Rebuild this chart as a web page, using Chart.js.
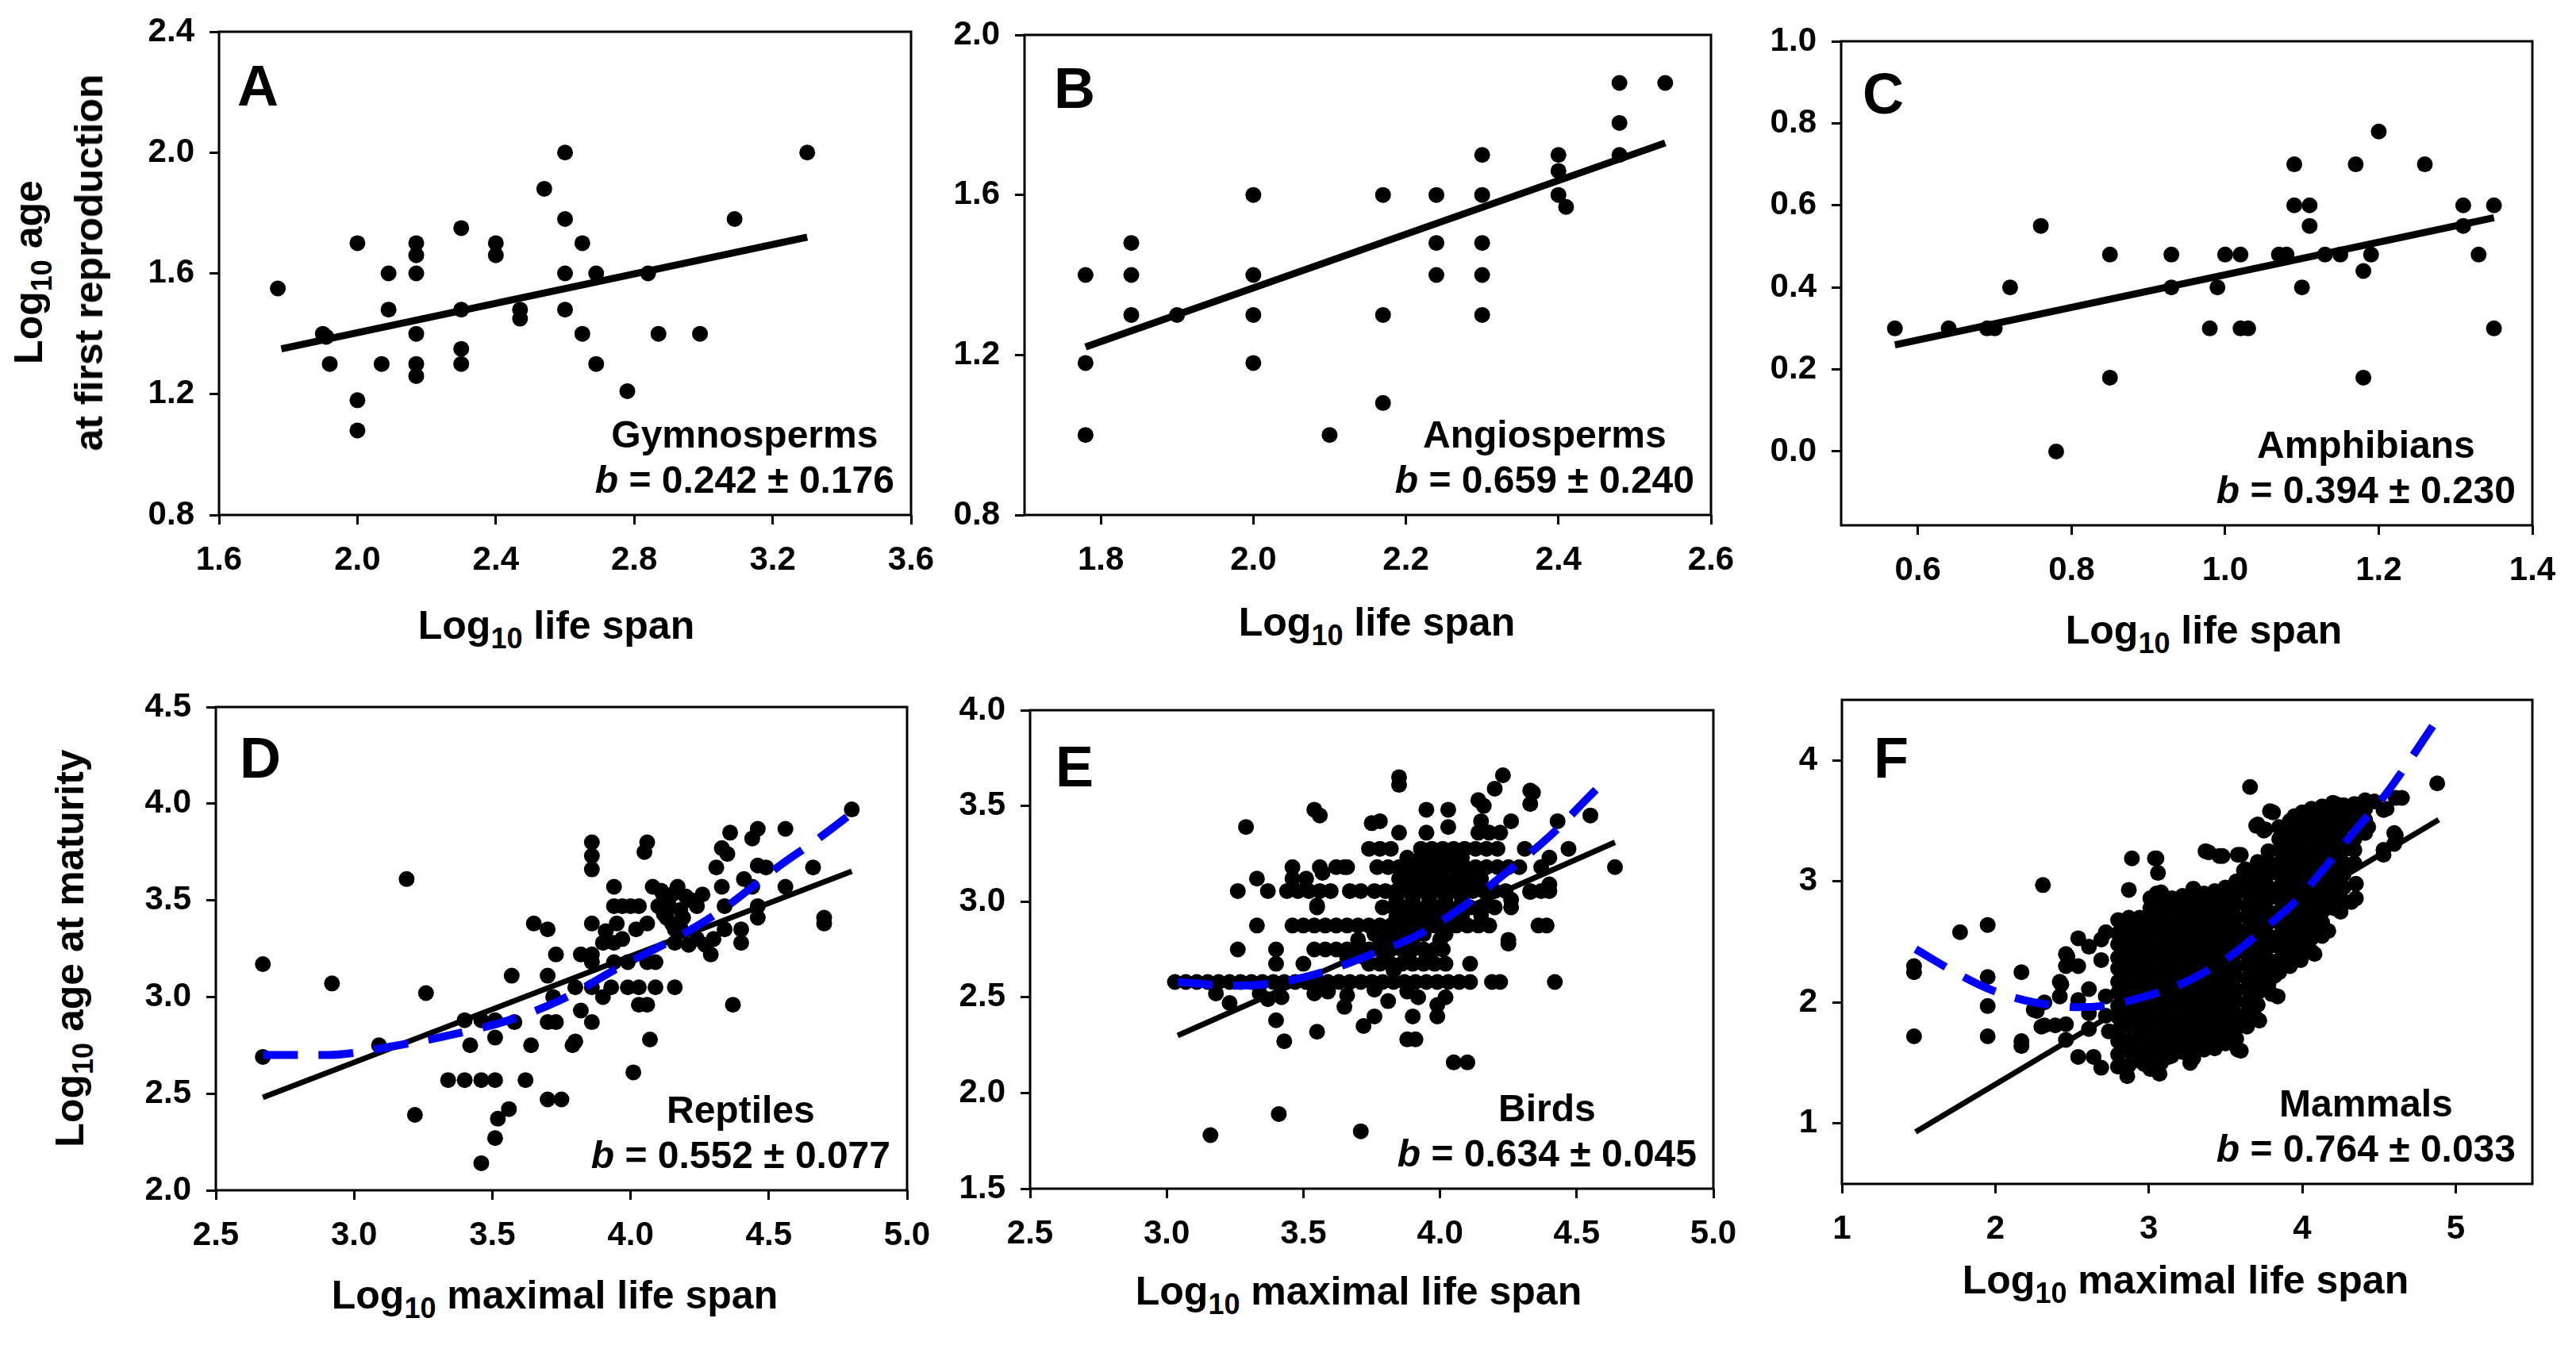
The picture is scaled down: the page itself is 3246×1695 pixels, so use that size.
<!DOCTYPE html>
<html lang="en">
<head>
<meta charset="UTF-8">
<title>Age at maturity vs life span</title>
<script src="https://cdn.jsdelivr.net/npm/chart.js"></script>
<style>
  body { margin: 0; background: #fff; width: 3246px; height: 1695px; position: relative; overflow: hidden;
         font-family: "Liberation Sans", Arial, sans-serif; font-weight: bold; color: #000; }
  canvas { position: absolute; }
  .txt { position: absolute; white-space: nowrap; line-height: 1; }
  .sub { font-size: 36px; position: relative; top: 12px; }
</style>
</head>
<body>
<script>
// ---- data ----
const gymnosperms = [[1.77,1.55],[1.90,1.40],[1.91,1.39],[1.92,1.30],[2.00,1.70],[2.00,1.18],[2.00,1.08],[2.07,1.30],[2.09,1.60],[2.09,1.48],[2.17,1.70],[2.17,1.66],[2.17,1.60],[2.17,1.40],[2.17,1.30],[2.17,1.26],[2.30,1.75],[2.30,1.48],[2.30,1.35],[2.30,1.30],[2.40,1.70],[2.40,1.66],[2.47,1.48],[2.47,1.45],[2.54,1.88],[2.60,2.00],[2.60,1.78],[2.60,1.60],[2.60,1.48],[2.65,1.70],[2.65,1.40],[2.69,1.60],[2.69,1.30],[2.78,1.21],[2.84,1.60],[2.87,1.40],[2.99,1.40],[3.09,1.78],[3.30,2.00]];
const angiosperms = [[1.78,1.40],[1.78,1.18],[1.78,1.00],[1.84,1.48],[1.84,1.40],[1.84,1.30],[1.90,1.30],[2.00,1.60],[2.00,1.40],[2.00,1.30],[2.00,1.18],[2.10,1.00],[2.17,1.60],[2.17,1.30],[2.17,1.08],[2.24,1.60],[2.24,1.48],[2.24,1.40],[2.30,1.70],[2.30,1.60],[2.30,1.48],[2.30,1.40],[2.30,1.30],[2.40,1.70],[2.40,1.66],[2.40,1.60],[2.41,1.57],[2.48,1.88],[2.48,1.78],[2.48,1.70],[2.54,1.88]];
const amphibians = [[0.57,0.30],[0.64,0.30],[0.69,0.30],[0.70,0.30],[0.72,0.40],[0.76,0.55],[0.78,0.00],[0.85,0.18],[0.85,0.48],[0.93,0.48],[0.93,0.40],[0.98,0.30],[0.99,0.40],[1.00,0.48],[1.02,0.48],[1.02,0.30],[1.03,0.30],[1.07,0.48],[1.08,0.48],[1.09,0.70],[1.09,0.60],[1.10,0.40],[1.11,0.60],[1.11,0.55],[1.13,0.48],[1.15,0.48],[1.17,0.70],[1.18,0.44],[1.18,0.18],[1.19,0.48],[1.20,0.78],[1.26,0.70],[1.31,0.60],[1.31,0.55],[1.33,0.48],[1.35,0.30],[1.35,0.60]];
const reptiles = [[2.67,3.17],[2.67,2.69],[2.92,3.07],[3.09,2.75],[3.19,3.61],[3.22,2.39],[3.26,3.02],[3.34,2.57],[3.40,2.57],[3.40,2.88],[3.42,2.75],[3.46,2.57],[3.46,2.88],[3.46,2.14],[3.51,2.27],[3.52,2.37],[3.51,2.57],[3.51,2.79],[3.51,2.88],[3.56,2.42],[3.58,2.87],[3.57,3.11],[3.62,2.57],[3.64,2.75],[3.65,3.38],[3.70,2.47],[3.75,2.47],[3.70,2.87],[3.73,2.87],[3.70,3.11],[3.70,3.35],[3.73,3.22],[3.72,3.00],[3.79,2.75],[3.80,2.77],[3.82,2.93],[3.82,3.22],[3.80,3.05],[3.86,2.87],[3.86,3.22],[3.86,3.18],[3.86,3.38],[3.86,3.66],[3.86,3.73],[3.86,3.80],[3.86,3.05],[3.90,3.00],[3.90,3.28],[3.91,3.34],[3.93,3.05],[3.94,3.18],[3.94,3.28],[3.94,3.47],[3.94,3.57],[3.95,3.38],[3.97,3.47],[3.97,3.30],[3.99,3.05],[3.99,3.18],[4.00,3.47],[4.01,2.61],[4.03,2.96],[4.03,3.05],[4.02,3.35],[4.03,3.47],[4.05,3.75],[4.06,3.80],[4.06,3.38],[4.06,3.18],[4.06,2.96],[4.07,2.78],[4.08,3.57],[4.09,3.05],[4.09,3.18],[4.10,3.47],[4.11,3.55],[4.12,3.52],[4.12,3.43],[4.13,3.41],[4.13,3.50],[4.14,3.47],[4.15,3.53],[4.15,3.38],[4.16,3.05],[4.16,3.28],[4.16,3.35],[4.17,3.57],[4.18,3.45],[4.18,3.36],[4.19,3.41],[4.20,3.52],[4.21,3.27],[4.22,3.50],[4.24,3.47],[4.24,3.30],[4.26,3.53],[4.27,3.27],[4.29,3.22],[4.30,3.30],[4.31,3.67],[4.33,3.77],[4.33,3.57],[4.34,3.47],[4.34,3.35],[4.35,3.74],[4.36,3.85],[4.37,2.96],[4.40,3.35],[4.40,3.28],[4.41,3.61],[4.44,3.57],[4.44,3.82],[4.46,3.87],[4.46,3.68],[4.46,3.47],[4.46,3.41],[4.49,3.67],[4.56,3.87],[4.56,3.57],[4.66,3.67],[4.70,3.41],[4.70,3.38],[4.80,3.97]];
// birds: rows of equal age (y, list of x) plus scattered points
const birdRows = [
  [2.58, [3.03,3.07,3.11,3.15,3.19,3.23,3.27,3.31,3.35,3.39,3.43,3.47,3.51,3.55,3.59,3.63,3.67,3.71,3.75,3.79,3.83,3.87,3.91,3.95,3.99,4.03,4.07,4.11,4.19,4.22,4.42]],
  [2.675, [3.40,3.50,3.74,3.78,3.82,3.86,3.90,3.94,3.98,4.02,4.11]],
  [2.71, [3.66,3.72,3.80,3.88,3.95]],
  [2.75, [3.26,3.40,3.54,3.58,3.62,3.66,3.70,3.74,3.78,3.82,3.86,3.90,3.94,3.98,4.01]],
  [2.80, [3.70,3.78,3.84,3.90,4.00,4.25]],
  [2.83, [3.76,3.82,3.88,3.94,4.02]],
  [2.875, [3.33,3.46,3.50,3.54,3.58,3.62,3.66,3.70,3.74,3.78,3.82,3.86,3.90,3.94,3.98,4.02,4.06,4.10,4.14,4.18,4.36,4.39]],
  [2.92, [3.84,3.88,3.92,3.96,4.00,4.04,4.08]],
  [2.97, [3.55,3.79,3.83,3.87,3.91,3.95,3.99,4.03,4.07,4.11,4.15,4.20,4.26]],
  [3.01, [3.84,3.90,3.96,4.02,4.08]],
  [3.055, [3.26,3.37,3.44,3.48,3.52,3.56,3.60,3.67,3.71,3.76,3.80,3.84,3.88,3.92,3.96,4.00,4.04,4.08,4.12,4.16,4.20,4.24,4.33,4.37,4.40]],
  [3.09, [3.86,3.92,3.98,4.04,4.10]],
  [3.12, [3.33,3.46,3.51,3.85,3.90,3.95,4.00,4.05,4.10,4.15]],
  [3.15, [3.88,3.94,4.00,4.06]],
  [3.18, [3.46,3.56,3.62,3.66,3.77,3.81,3.85,3.89,3.93,3.97,4.01,4.05,4.09,4.13,4.17,4.21,4.25,4.29,4.37,4.64]],
  [3.23, [3.88,3.93,3.98,4.03,4.08]],
  [3.276, [3.74,3.78,3.82,3.93,3.97,4.01,4.05,4.09,4.13,4.17,4.21,4.31,4.47]],
  [3.36, [3.85,3.95,4.14,4.18,4.22]]
];
const birdsOther = [[3.29,3.39],[3.54,3.48],[3.56,3.45],[3.85,3.65],[3.85,3.61],[4.23,3.66],[4.20,3.59],[4.33,3.58],[4.34,3.57],[4.33,3.51],[4.14,3.53],[4.16,3.50],[3.95,3.48],[4.03,3.48],[3.75,3.41],[3.78,3.42],[4.03,3.39],[4.15,3.42],[4.26,3.42],[4.43,3.42],[4.55,3.45],[4.40,3.23],[4.40,3.09],[4.33,3.05],[4.26,3.01],[4.18,2.98],[4.15,2.93],[4.25,2.78],[4.01,2.82],[3.57,3.15],[3.65,3.18],[3.55,2.98],[3.18,2.52],[3.23,2.47],[3.34,2.52],[3.37,2.49],[3.42,2.50],[3.54,2.52],[3.59,2.53],[3.65,2.45],[3.66,2.51],[3.76,2.54],[3.81,2.48],[3.88,2.53],[3.92,2.50],[3.99,2.46],[4.02,2.50],[3.40,2.38],[3.43,2.27],[3.55,2.32],[3.72,2.35],[3.76,2.40],[3.90,2.40],[3.99,2.40],[3.88,2.28],[3.91,2.28],[4.05,2.16],[4.10,2.16],[3.41,1.89],[3.16,1.78],[3.71,1.80],[3.83,2.64]];
// mammals: columns of the dense cloud (x, list of y) plus outlying points
const mammalCols = [
  [2.80, [1.47,1.57,1.68,1.77,1.88,1.97,2.08,2.17,2.28,2.37,2.48,2.57,2.68]],
  [2.87, [1.48,1.60,1.69,1.81,1.90,2.01,2.10,2.21,2.30,2.41,2.50,2.61,2.70]],
  [2.94, [1.52,1.61,1.73,1.82,1.93,2.02,2.13,2.22,2.33,2.42,2.53,2.62,2.70]],
  [3.01, [1.45,1.57,1.66,1.78,1.87,1.98,2.07,2.18,2.27,2.38,2.47,2.58,2.67,2.78,2.86]],
  [3.08, [1.50,1.61,1.70,1.81,1.90,2.01,2.10,2.21,2.30,2.41,2.50,2.61,2.70,2.81,2.91]],
  [3.15, [1.56,1.65,1.76,1.85,1.96,2.05,2.16,2.25,2.36,2.45,2.56,2.65,2.76,2.86]],
  [3.22, [1.59,1.68,1.79,1.88,1.99,2.08,2.19,2.28,2.39,2.48,2.59,2.68,2.79,2.88]],
  [3.29, [1.54,1.65,1.74,1.85,1.94,2.05,2.14,2.25,2.34,2.45,2.54,2.65,2.74,2.85,2.94]],
  [3.36, [1.61,1.70,1.81,1.90,2.01,2.10,2.21,2.30,2.41,2.50,2.61,2.70,2.81,2.90]],
  [3.43, [1.62,1.73,1.82,1.93,2.02,2.13,2.22,2.33,2.42,2.53,2.62,2.73,2.82,2.92]],
  [3.50, [1.66,1.75,1.86,1.95,2.06,2.15,2.26,2.35,2.46,2.55,2.66,2.75,2.86,2.95]],
  [3.57, [1.70,1.81,1.90,2.01,2.10,2.21,2.30,2.41,2.50,2.61,2.70,2.81,2.90,3.00]],
  [3.64, [1.80,1.91,2.00,2.11,2.20,2.31,2.40,2.51,2.60,2.71,2.80,2.91,3.00,3.08]],
  [3.71, [1.98,2.08,2.19,2.28,2.39,2.48,2.59,2.68,2.79,2.88,2.99,3.08,3.16]],
  [3.78, [2.15,2.26,2.35,2.46,2.55,2.66,2.75,2.86,2.95,3.06,3.15,3.25]],
  [3.85, [2.25,2.35,2.46,2.55,2.66,2.75,2.86,2.95,3.06,3.15,3.26,3.35,3.45]],
  [3.92, [2.30,2.41,2.50,2.61,2.70,2.81,2.90,3.01,3.10,3.21,3.30,3.41,3.50]],
  [3.99, [2.35,2.45,2.56,2.65,2.76,2.85,2.96,3.05,3.16,3.25,3.36,3.45,3.55]],
  [4.06, [2.42,2.53,2.62,2.73,2.82,2.93,3.02,3.13,3.22,3.33,3.42,3.52,3.60]],
  [4.13, [2.55,2.66,2.75,2.86,2.95,3.06,3.15,3.26,3.35,3.46,3.55,3.62]],
  [4.20, [2.78,2.88,2.99,3.08,3.19,3.28,3.39,3.48,3.58,3.65]],
  [4.27, [2.95,3.06,3.15,3.26,3.35,3.46,3.55,3.63]],
  [4.34, [3.15,3.26,3.35,3.46,3.55,3.64]],
  [4.41, [3.40,3.51,3.60,3.67]]
];
const mammalsOther = [[1.47,2.30],[1.47,2.25],[1.47,1.72],[1.77,2.58],[1.95,2.64],[1.95,2.21],[1.95,1.97],[1.95,1.72],[2.17,2.25],[2.17,1.68],[2.17,1.64],[2.31,2.97],[2.27,1.93],[2.32,2.00],[2.32,1.81],[2.39,1.81],[2.43,2.15],[2.42,2.05],[2.47,2.38],[2.46,2.30],[2.54,2.53],[2.54,2.30],[2.54,2.02],[2.54,1.55],[2.61,2.46],[2.61,2.11],[2.61,1.91],[2.61,1.78],[2.64,1.55],[2.69,2.52],[2.69,2.35],[2.69,1.46],[2.72,2.58],[2.72,2.05],[2.72,1.89],[2.74,1.76],[2.46,2.40],[2.46,1.82],[2.46,1.69],[2.42,2.17],[2.25,1.94],[2.30,1.80],[2.80,1.47],[2.86,1.39],[2.97,1.49],[3.07,1.41],[3.13,1.55],[3.27,1.50],[3.58,1.61],[3.60,1.60],[3.61,1.81],[3.70,1.87],[3.72,1.85],[3.80,2.07],[3.82,2.22],[3.84,2.05],[3.96,2.35],[4.03,2.50],[4.06,2.42],[4.08,2.40],[4.17,2.59],[4.23,2.77],[4.25,2.75],[4.25,2.86],[4.32,2.83],[4.35,2.86],[4.35,2.98],[4.53,3.22],[4.53,3.26],[4.60,3.31],[4.61,3.38],[4.60,3.40],[4.55,3.60],[4.53,3.59],[4.61,3.69],[4.65,3.69],[4.88,3.81],[4.47,3.66],[4.43,3.45],[4.22,3.64],[4.12,3.57],[4.00,3.57],[3.95,3.54],[3.81,3.57],[3.79,3.58],[3.88,3.43],[3.76,3.43],[3.71,3.47],[3.70,3.46],[3.75,3.42],[3.66,3.78],[3.60,3.22],[3.58,3.22],[3.48,3.21],[3.46,3.21],[3.39,3.24],[3.37,3.25],[3.63,3.10],[3.62,3.09],[3.05,3.19],[3.04,3.19],[3.06,3.07],[3.05,2.90],[2.89,3.19],[2.87,2.93]];

// fitted lines (solid black) and quadratic trends (blue dashed)
const fitA = [[1.78,1.35],[3.30,1.72]];
const fitB = [[1.78,1.22],[2.54,1.73]];
const fitC = [[0.57,0.26],[1.35,0.57]];
const fitD = [[2.67,2.48],[4.80,3.65]];
const fitE = [[3.04,2.30],[4.64,3.31]];
const fitF = [[1.48,0.93],[4.89,3.51]];
const curveD = [[2.67,2.70],[2.90,2.70],[3.16,2.75],[3.37,2.81],[3.56,2.88],[3.74,2.98],[3.98,3.17],[4.17,3.31],[4.32,3.44],[4.54,3.68],[4.67,3.81],[4.80,3.95]];
const curveE = [[3.04,2.58],[3.25,2.56],[3.42,2.58],[3.59,2.64],[3.74,2.72],[3.91,2.82],[4.08,2.97],[4.24,3.15],[4.40,3.34],[4.56,3.57],[4.61,3.64]];
const curveF = [[1.48,2.44],[1.75,2.24],[1.94,2.12],[2.15,2.03],[2.35,1.98],[2.55,1.96],[2.75,1.98],[2.95,2.04],[3.15,2.12],[3.35,2.24],[3.55,2.40],[3.75,2.61],[3.95,2.83],[4.15,3.12],[4.35,3.43],[4.55,3.73],[4.70,4.00],[4.88,4.34]];

// tick values
const ticksAx = [1.6,2.0,2.4,2.8,3.2,3.6], ticksAy = [0.8,1.2,1.6,2.0,2.4];
const ticksBx = [1.8,2.0,2.2,2.4,2.6], ticksBy = [0.8,1.2,1.6,2.0];
const ticksCx = [0.6,0.8,1.0,1.2,1.4], ticksCy = [0.0,0.2,0.4,0.6,0.8,1.0];
const ticksDx = [2.5,3.0,3.5,4.0,4.5,5.0], ticksDy = [2.0,2.5,3.0,3.5,4.0,4.5];
const ticksEx = [2.5,3.0,3.5,4.0,4.5,5.0], ticksEy = [1.5,2.0,2.5,3.0,3.5,4.0];
const ticksFx = [1,2,3,4,5], ticksFy = [1,2,3,4];

const groupNames = ['Gymnosperms','Angiosperms','Amphibians','Reptiles','Birds','Mammals'];
const slopes = ['0.242 ± 0.176','0.659 ± 0.240','0.394 ± 0.230','0.552 ± 0.077','0.634 ± 0.045','0.764 ± 0.033'];

// ---- build ----
const birds = birdsOther.concat(...birdRows.map(r => r[1].map(x => [x, r[0]])));
const mammals = mammalsOther.concat(...mammalCols.map(c => c[1].map(y => [c[0], y])));

const pts = pairs => pairs.map(p => ({x: p[0], y: p[1]}));

const framePlugin = {
  id: 'frame',
  beforeDatasetsDraw(chart) {
    const {ctx, chartArea: a} = chart;
    ctx.save();
    ctx.strokeStyle = '#000';
    ctx.lineWidth = 3;
    ctx.strokeRect(a.left, a.top, a.right - a.left, a.bottom - a.top);
    ctx.restore();
  }
};

function makePanel(p) {
  const padL = 140, padT = 50, padR = 50, padB = 100;
  const [l, t, r, b] = p.box;
  const cv = document.createElement('canvas');
  cv.width = r - l + padL + padR;
  cv.height = b - t + padT + padB;
  cv.style.left = (l - padL) + 'px';
  cv.style.top = (t - padT) + 'px';
  document.body.appendChild(cv);

  const tickFont = {family: 'Liberation Sans', weight: 'bold', size: 42};
  const grid = {display: true, drawOnChartArea: false, drawTicks: true, tickLength: 12, tickWidth: 3, tickColor: '#000'};
  const fmt = v => v.toFixed(p.dec);

  const datasets = [];
  if (p.curve) {
    datasets.push({data: pts(p.curve), showLine: true, borderColor: '#0000ff', borderWidth: 10,
      borderDash: [44, 26], pointRadius: 0, cubicInterpolationMode: 'monotone', order: 0});
  }
  datasets.push({data: pts(p.fit), showLine: true, borderColor: '#000', borderWidth: p.fitWidth, pointRadius: 0, order: 1});
  datasets.push({data: pts(p.points), pointRadius: p.radius, pointBackgroundColor: '#000',
    pointBorderWidth: 0, order: 2});

  new Chart(cv, {
    type: 'scatter',
    data: {datasets},
    options: {
      responsive: false, animation: false, devicePixelRatio: 1, events: [],
      layout: {padding: {top: padT, right: padR, left: 0, bottom: 0}},
      plugins: {legend: {display: false}, tooltip: {enabled: false}},
      scales: {
        x: {
          type: 'linear', min: p.xr[0], max: p.xr[1],
          afterBuildTicks: s => { s.ticks = p.xt.map(v => ({value: v})); },
          afterFit: s => { s.height = padB; },
          ticks: {font: tickFont, color: '#000', padding: 20, maxRotation: 0, autoSkip: false, callback: fmt},
          grid, border: {display: false}
        },
        y: {
          type: 'linear', min: p.yr[0], max: p.yr[1],
          afterBuildTicks: s => { s.ticks = p.yt.map(v => ({value: v})); },
          afterFit: s => { s.width = padL; },
          ticks: {font: tickFont, color: '#000', padding: 19, autoSkip: false, callback: fmt},
          grid, border: {display: false}
        }
      }
    },
    plugins: [framePlugin]
  });

  // panel letter
  text(p.letter, p.letterPos[0], p.letterPos[1], 72, 'left');
  // group name and slope, name centred above the slope line
  const ann = document.createElement('div');
  ann.className = 'txt';
  ann.style.fontSize = '48px';
  ann.style.lineHeight = '57px';
  ann.style.textAlign = 'center';
  ann.style.left = (r - 21) + 'px';
  ann.style.top = (b - 28 - 102) + 'px';
  ann.style.transform = 'translateX(-100%)';
  ann.innerHTML = groupNames[p.idx] + '<br><i>b</i> = ' + slopes[p.idx];
  document.body.appendChild(ann);
  // x title
  text(p.xTitle, p.xTitlePos[0], p.xTitlePos[1], 50, 'center');
}

function text(html, x, base, size, align) {
  const d = document.createElement('div');
  d.className = 'txt';
  d.innerHTML = html;
  d.style.fontSize = size + 'px';
  d.style.left = x + 'px';
  d.style.top = (base - 0.8465 * size) + 'px';
  if (align === 'center') d.style.transform = 'translateX(-50%)';
  if (align === 'right') d.style.transform = 'translateX(-100%)';
  document.body.appendChild(d);
}

function vtext(html, cx, cy, size) {
  const d = document.createElement('div');
  d.className = 'txt';
  d.innerHTML = html;
  d.style.fontSize = size + 'px';
  d.style.left = cx + 'px';
  d.style.top = cy + 'px';
  d.style.transform = 'translate(-50%, -50%) rotate(-90deg)';
  document.body.appendChild(d);
}

const lifeSpan = 'Log<span class="sub">10</span> life span';
const maxLifeSpan = 'Log<span class="sub">10</span> maximal life span';

makePanel({idx: 0, letter: 'A', box: [276, 40, 1148, 649], xr: [1.6, 3.6], yr: [0.8, 2.4], xt: ticksAx, yt: ticksAy, dec: 1,
  points: gymnosperms, fit: fitA, fitWidth: 9, radius: 10, letterPos: [299, 133], xTitle: lifeSpan, xTitlePos: [701, 805]});
makePanel({idx: 1, letter: 'B', box: [1291, 44, 2156, 649], xr: [1.7, 2.6], yr: [0.8, 2.0], xt: ticksBx, yt: ticksBy, dec: 1,
  points: angiosperms, fit: fitB, fitWidth: 9, radius: 10, letterPos: [1328, 136], xTitle: lifeSpan, xTitlePos: [1735, 801]});
makePanel({idx: 2, letter: 'C', box: [2320, 52, 3191, 662], xr: [0.5, 1.4], yr: [-0.18, 1.0], xt: ticksCx, yt: ticksCy, dec: 1,
  points: amphibians, fit: fitC, fitWidth: 9, radius: 10, letterPos: [2347, 143], xTitle: lifeSpan, xTitlePos: [2777, 811]});
makePanel({idx: 3, letter: 'D', box: [272, 891, 1143, 1500], xr: [2.5, 5.0], yr: [2.0, 4.5], xt: ticksDx, yt: ticksDy, dec: 1,
  points: reptiles, fit: fitD, curve: curveD, fitWidth: 7, radius: 10, letterPos: [302, 980], xTitle: maxLifeSpan, xTitlePos: [699, 1649]});
makePanel({idx: 4, letter: 'E', box: [1298, 895, 2159, 1498], xr: [2.5, 5.0], yr: [1.5, 4.0], xt: ticksEx, yt: ticksEy, dec: 1,
  points: birds, fit: fitE, curve: curveE, fitWidth: 7, radius: 10, letterPos: [1330, 991], xTitle: maxLifeSpan, xTitlePos: [1712, 1644]});
makePanel({idx: 5, letter: 'F', box: [2321, 882, 3191, 1492], xr: [1, 5.5], yr: [0.5, 4.5], xt: ticksFx, yt: ticksFy, dec: 0,
  points: mammals, fit: fitF, curve: curveF, fitWidth: 7, radius: 10, letterPos: [2361, 980], xTitle: maxLifeSpan, xTitlePos: [2754, 1630]});

// y axis titles
vtext('Log<span class="sub">10</span> age', 36, 343, 50);
vtext('at first reproduction', 112, 331, 50);
vtext('Log<span class="sub">10</span> age at maturity', 88, 1195, 50);
</script>
</body>
</html>
